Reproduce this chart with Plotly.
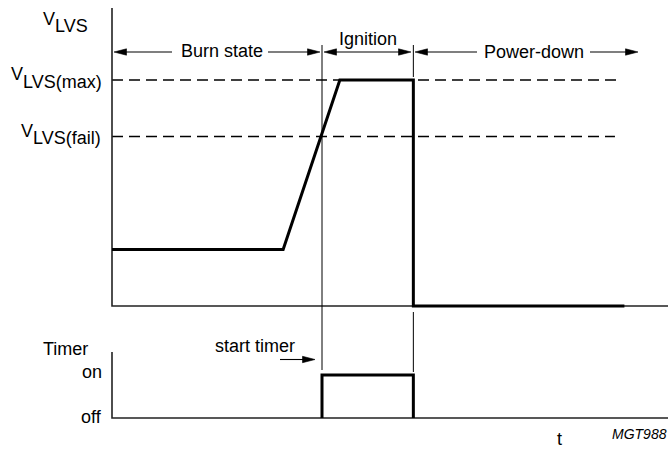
import plotly.graph_objects as go

# ---------------- data ----------------
# LVS voltage waveform (time in arbitrary units, voltage in arbitrary units)
T_SIGNAL = [0, 8.15, 10.85, 14.35, 14.35, 24.4]
V_SIGNAL = [2.5, 2.5, 10, 10, 0, 0]

# Timer waveform (0 = off, 1 = on)
T_TIMER = [10, 10, 14.35, 14.35]
TIMER = [0, 1, 1, 0]

V_MAX = 10.0
V_FAIL = 7.5
DASH_T = [0, 24.1]

T_START = 10.0      # start timer / start of ignition
T_END_IGN = 14.35   # end of ignition
PHASES = ["Burn state", "Ignition", "Power-down"]
TIMER_TICKS = ["on", "off"]

# ---------------- geometry (pixel mapping) ----------------
W, H = 668, 450
X0, KX = 112, 21.0          # px of t=0, px per time unit
Y0_TOP, KY_TOP = 306, 22.6  # px of V=0, px per volt
Y0_BOT, KY_BOT = 418, 43.0  # px of timer off, px per unit

def t_of(p):
    return (p - X0) / KX

def v_of(p):
    return (Y0_TOP - p) / KY_TOP

def s_of(p):
    return (Y0_BOT - p) / KY_BOT

def px(x):
    return x / W

def py(y):
    return 1 - y / H

FONT = "Liberation Sans, Arial, sans-serif"
BLACK = "#000000"

fig = go.Figure()

# reference levels (dashed)
fig.add_trace(go.Scatter(x=DASH_T, y=[V_MAX, V_MAX], mode="lines",
                         line=dict(color=BLACK, width=1.3, dash="11px,6px"),
                         hoverinfo="skip"))
fig.add_trace(go.Scatter(x=[DASH_T[0], DASH_T[1] - 0.15], y=[V_FAIL, V_FAIL], mode="lines",
                         line=dict(color=BLACK, width=1.3, dash="11px,6px"),
                         hoverinfo="skip"))

# axes lines
axis_style = dict(color="#222222", width=1.6)
fig.add_trace(go.Scatter(x=[0, 0, t_of(W + 5)], y=[v_of(8), 0, 0], mode="lines",
                         line=axis_style, hoverinfo="skip"))
fig.add_trace(go.Scatter(x=[0, 0, t_of(W + 5)], y=[s_of(352), 0, 0], mode="lines",
                         line=axis_style, hoverinfo="skip", yaxis="y2"))

# guide vertical lines
fig.add_shape(type="line", xref="x", yref="paper", x0=T_START, x1=T_START,
              y0=py(45), y1=py(370), line=dict(color=BLACK, width=1))
fig.add_shape(type="line", xref="x", yref="paper", x0=T_END_IGN, x1=T_END_IGN,
              y0=py(45), y1=py(77), line=dict(color=BLACK, width=1))
fig.add_shape(type="line", xref="x", yref="paper", x0=T_END_IGN, x1=T_END_IGN,
              y0=py(312), y1=py(372), line=dict(color=BLACK, width=1))

# signals
fig.add_trace(go.Scatter(x=T_SIGNAL, y=V_SIGNAL, mode="lines",
                         line=dict(color=BLACK, width=3), hoverinfo="skip"))
fig.add_trace(go.Scatter(x=T_TIMER, y=TIMER, mode="lines",
                         line=dict(color=BLACK, width=3), hoverinfo="skip", yaxis="y2"))


# ---------------- arrows (drawn in pixel space, converted) ----------------
HEAD_L, HEAD_HW = 12.5, 3.2

def arrow(tail_px, tip_px, y_px, yaxis="y"):
    conv = v_of if yaxis == "y" else s_of
    d = 1 if tip_px > tail_px else -1
    base = tip_px - d * HEAD_L
    fig.add_shape(type="line", xref="x", yref=yaxis,
                  x0=t_of(tail_px), x1=t_of(base + d * 2), y0=conv(y_px), y1=conv(y_px),
                  line=dict(color=BLACK, width=1.1))
    path = "M{},{} L{},{} L{},{} Z".format(
        t_of(tip_px), conv(y_px),
        t_of(base), conv(y_px - HEAD_HW),
        t_of(base), conv(y_px + HEAD_HW))
    fig.add_shape(type="path", xref="x", yref=yaxis, path=path,
                  fillcolor=BLACK, line=dict(color=BLACK, width=0.6))

YA = 52
arrow(172, 114, YA)
arrow(268, 320, YA)
arrow(367, 324, YA)
arrow(367, 411, YA)
arrow(477, 415, YA)
arrow(590, 638, YA)
arrow(280, 315, 359.5, yaxis="y2")

ann = []

def text(x, y, s, size=18, xanchor="center", italic=False):
    ann.append(dict(x=px(x), y=py(y), xref="paper", yref="paper", text=s,
                    showarrow=False, xanchor=xanchor, yanchor="middle",
                    borderpad=0, borderwidth=0,
                    font=dict(family=FONT, size=size, color=BLACK,
                              style="italic" if italic else "normal")))

# phase labels
text(221.5, 50.5, PHASES[0])
text(368, 38.5, PHASES[1])
text(533.5, 51.5, PHASES[2])

# left labels
text(55, 19, "V", xanchor="right")
text(55, 26.5, "LVS", xanchor="left")
text(23, 74, "V", xanchor="right")
text(23, 81.5, "LVS(max)", xanchor="left")
text(33, 131, "V", xanchor="right")
text(33, 138.5, "LVS(fail)", xanchor="left")

text(65, 348.5, "Timer")
text(102, 371.5, TIMER_TICKS[0], xanchor="right")
text(102, 416.5, TIMER_TICKS[1], xanchor="right")
text(255, 345.5, "start timer")
text(559.5, 438.5, "t")
text(612, 433.5, "MGT988", size=14, xanchor="left", italic=True)

fig.update_layout(
    width=W, height=H,
    margin=dict(l=0, r=0, t=0, b=0),
    paper_bgcolor="white", plot_bgcolor="white",
    showlegend=False,
    xaxis=dict(range=[t_of(0), t_of(W)], visible=False, fixedrange=True),
    yaxis=dict(range=[v_of(H), v_of(0)], visible=False, fixedrange=True),
    yaxis2=dict(range=[s_of(H), s_of(0)], visible=False, fixedrange=True,
                overlaying="y"),
    annotations=ann,
)

fig.write_html("out.html", config={"displayModeBar": False},
               post_script="document.body.style.margin='0';document.body.style.overflow='hidden';")
